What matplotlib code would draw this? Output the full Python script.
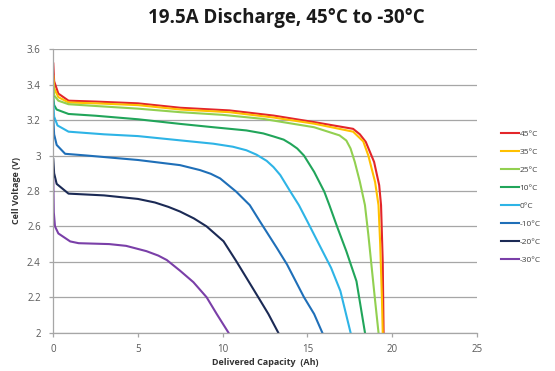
import matplotlib
matplotlib.use("Agg")
import matplotlib.pyplot as plt
from matplotlib.ticker import FuncFormatter

# Curvas de descarga a 19.5A (capacidade em Ah, tensao em V)
x_45 = [0, 0.05, 0.3, 0.9, 2.5, 5, 7.5, 10.4, 13.0, 15.4, 17.7, 18.1, 18.45, 18.94, 19.24, 19.35, 19.45, 19.5]
v_45 = [3.52, 3.42, 3.35, 3.31, 3.305, 3.295, 3.27, 3.255, 3.226, 3.189, 3.151, 3.12, 3.077, 2.964, 2.833, 2.72, 2.4, 2.0]

x_35 = [0, 0.05, 0.3, 0.9, 2.5, 5, 7.5, 10.4, 13.0, 15.4, 17.7, 18.3, 18.6, 19.0, 19.2, 19.3, 19.4, 19.45]
v_35 = [3.45, 3.38, 3.33, 3.30, 3.295, 3.285, 3.26, 3.245, 3.215, 3.18, 3.135, 3.08, 3.0, 2.85, 2.72, 2.5, 2.2, 2.0]

x_25 = [0, 0.05, 0.3, 0.9, 2.5, 5, 7.5, 10, 12.4, 15.4, 16.9, 17.3, 17.55, 17.8, 18.1, 18.4, 18.6, 18.8, 19.0, 19.2]
v_25 = [3.40, 3.34, 3.31, 3.29, 3.28, 3.265, 3.245, 3.23, 3.207, 3.16, 3.114, 3.085, 3.04, 2.964, 2.852, 2.72, 2.553, 2.366, 2.18, 2.0]

x_10 = [0, 0.05, 0.2, 0.9, 2.5, 5, 7.48, 9.45, 11.4, 12.4, 13.0, 13.6, 14.0, 14.4, 14.8, 15.4, 16.0, 16.3, 16.75, 17.3, 17.9, 18.4]
v_10 = [3.33, 3.285, 3.26, 3.235, 3.225, 3.205, 3.179, 3.16, 3.142, 3.125, 3.108, 3.09, 3.067, 3.04, 3.0, 2.908, 2.796, 2.72, 2.6, 2.46, 2.29, 2.0]

x_0 = [0, 0.05, 0.25, 0.9, 3, 5, 7.48, 9.45, 10.6, 11.4, 12.0, 12.6, 13.0, 13.4, 14.0, 14.5, 15.0, 15.8, 16.4, 16.95, 17.55]
v_0 = [3.30, 3.22, 3.17, 3.135, 3.12, 3.11, 3.086, 3.067, 3.05, 3.03, 3.005, 2.97, 2.935, 2.89, 2.796, 2.72, 2.628, 2.478, 2.366, 2.235, 2.0]

x_m10 = [0, 0.05, 0.2, 0.7, 2, 5, 7.48, 8.66, 9.3, 9.85, 10.8, 11.6, 12.2, 13.2, 13.8, 14.8, 15.4, 15.88]
v_m10 = [3.21, 3.12, 3.06, 3.01, 3.0, 2.975, 2.946, 2.918, 2.897, 2.871, 2.796, 2.72, 2.628, 2.478, 2.385, 2.2, 2.105, 2.0]

x_m20 = [0, 0.05, 0.2, 0.9, 3, 5, 6, 6.8, 7.48, 8.3, 9.05, 10.05, 10.8, 11.4, 12.1, 12.7, 13.28]
v_m20 = [2.98, 2.90, 2.84, 2.785, 2.775, 2.755, 2.735, 2.71, 2.684, 2.645, 2.6, 2.516, 2.404, 2.31, 2.2, 2.105, 2.0]

x_m30 = [0, 0.03, 0.1, 0.3, 1.0, 1.5, 3.3, 4.3, 5.5, 6.2, 6.7, 7.48, 8.27, 9.05, 9.65, 10.34]
v_m30 = [2.86, 2.68, 2.6, 2.56, 2.515, 2.505, 2.5, 2.49, 2.46, 2.435, 2.41, 2.35, 2.285, 2.2, 2.105, 2.0]

series = [
    (x_45, v_45, "45°C", "#e3262a"),
    (x_35, v_35, "35°C", "#ffc000"),
    (x_25, v_25, "25°C", "#92d050"),
    (x_10, v_10, "10°C", "#21a55a"),
    (x_0, v_0, "0°C", "#2eb4e6"),
    (x_m10, v_m10, "-10°C", "#1f6fb8"),
    (x_m20, v_m20, "-20°C", "#1b2a55"),
    (x_m30, v_m30, "-30°C", "#7a3fa8"),
]

fig = plt.figure(figsize=(5.55, 3.71), dpi=100)
ax = fig.add_axes([0.096, 0.1035, 0.763, 0.7635])

for x, v, lab, cor in series:
    ax.plot(x, v, color=cor, lw=1.5, label=lab, solid_joinstyle="round")

ax.set_xlim(0, 25)
ax.set_ylim(2, 3.6)
ax.set_xticks([0, 5, 10, 15, 20, 25])
ax.set_yticks([2, 2.2, 2.4, 2.6, 2.8, 3, 3.2, 3.4, 3.6])
ax.yaxis.set_major_formatter(FuncFormatter(lambda v, p: "%g" % round(v, 1)))
ax.grid(axis="y", color="#a6a6a6", lw=0.9)
ax.set_axisbelow(True)
for s in ["top", "right"]:
    ax.spines[s].set_visible(False)
for s in ["left", "bottom"]:
    ax.spines[s].set_color("#a6a6a6")
    ax.spines[s].set_linewidth(0.9)
ax.tick_params(colors="#a6a6a6", length=3, width=0.9, labelsize=7,
               labelcolor="#595959")
ax.tick_params(axis="x", pad=5)
ax.tick_params(axis="y", pad=6)

fonte = "Open Sans"
for t in ax.get_xticklabels() + ax.get_yticklabels():
    t.set_family(fonte)

fig.text(0.516, 0.952, "19.5A Discharge, 45°C to -30°C", ha="center", va="center",
         fontsize=13.5, fontweight="bold", family=fonte, color="#1a1a1a")
ax.set_xlabel("Delivered Capacity  (Ah)", fontsize=6.5, fontweight="bold",
              family=fonte, color="#333333", labelpad=2.5)
ax.set_ylabel("Cell Voltage (V)", fontsize=6.5, fontweight="bold",
              family=fonte, color="#333333", labelpad=4)

leg = ax.legend(loc="upper left", bbox_to_anchor=(0.902, 0.65),
                bbox_transform=fig.transFigure, frameon=False,
                handlelength=2.2, handletextpad=0.1,
                labelspacing=1.22, borderpad=0, borderaxespad=0,
                prop={"family": fonte, "size": 6})
for t in leg.get_texts():
    t.set_color("#404040")

fig.savefig("out.png", dpi=100)
